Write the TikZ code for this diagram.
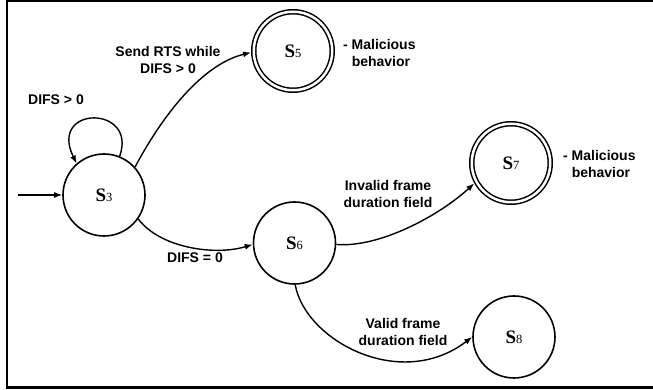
\documentclass[tikz,border=0pt]{standalone}
\usepackage{fontspec}
\setmainfont{Liberation Sans}
\newfontfamily\statefont{Liberation Serif}
\usetikzlibrary{arrows.meta}

% state name: bold serif S with a small index digit
\newcommand{\stname}[1]{{\statefont\fontsize{19}{19}\selectfont\textbf{S}\fontsize{12.5}{12.5}\selectfont #1}}

\tikzset{
  x=1pt, y=1pt,
  state/.style={circle, draw, line width=1.6pt, minimum size=82pt, inner sep=0pt},
  accepting/.style={circle, draw, line width=1.5pt, double, double distance=2.5pt,
    minimum size=78.5pt, inner sep=0pt, outer sep=2.75pt},
  trans/.style={line width=1.4pt, -{Latex[length=8pt,width=6pt]}},
  lbl/.style={font=\bfseries\fontsize{14}{16.5}\selectfont, align=center, inner sep=0pt},
  note/.style={font=\bfseries\fontsize{14}{17}\selectfont, align=left, inner sep=0pt, anchor=west},
}

\begin{document}
\begin{tikzpicture}
\useasboundingbox (0,0) rectangle (653,390);

% outer frame
\draw[line width=2.6pt] (662,389) -- (7,389) -- (7,2.5) -- (662,2.5);

% states
\node[state]     (s3) at (104,195)   {\stname{3}};
\node[accepting] (s5) at (293,339)   {\stname{5}};
\node[state]     (s6) at (294.5,147) {\stname{6}};
\node[accepting] (s7) at (511,227)   {\stname{7}};
\node[state]     (s8) at (514,53)    {\stname{8}};

% initial arrow
\coordinate (init) at (18,195);
\draw[trans] (init) -- (s3);

% transitions
\draw[trans] (s3.68) .. controls (138,285) and (48,285) .. (s3.131);
\draw[trans] (s3.42) .. controls (160,270) and (200,325) .. (s5.182);
\draw[trans] (s3.-35) .. controls (160,142) and (215,134) .. (s6.182);
\draw[trans] (s6.-2) .. controls (380,142) and (440,175) .. (s7.209);
\draw[trans] (s6.-89) .. controls (305,50) and (400,-2) .. (s8.180);

% transition labels
\node[lbl] (l33) at (56,290)  {DIFS > 0};
\node[lbl] (l35) at (168,330) {Send RTS while\\DIFS > 0};
\node[lbl] (l36) at (195,132) {DIFS = 0};
\node[lbl] (l67) at (388,196) {Invalid frame\\duration field};
\node[lbl] (l68) at (403,58)  {Valid frame\\duration field};

% notes on the accepting states
\node[note] (n5) at (343,336.5) {- Malicious\\\hphantom{- }behavior};
\node[note] (n7) at (563,226)   {- Malicious\\\hphantom{- }behavior};
\end{tikzpicture}
\end{document}
